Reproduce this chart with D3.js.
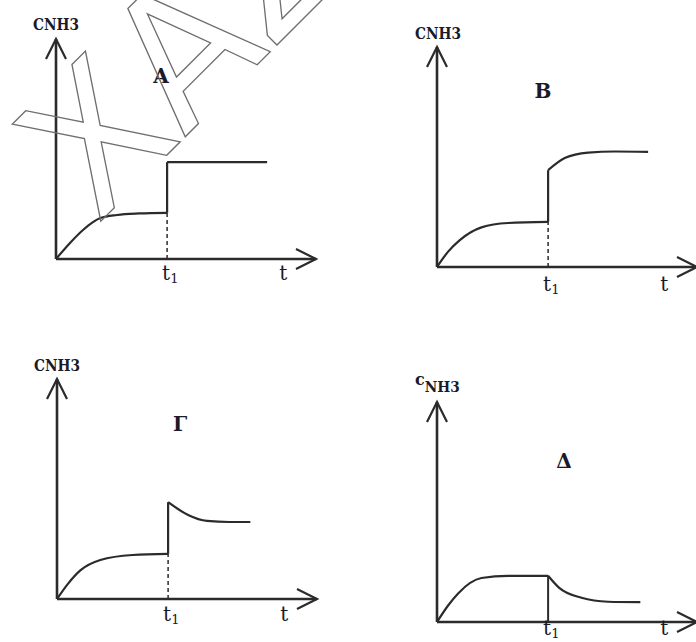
<!DOCTYPE html>
<html>
<head>
<meta charset="utf-8">
<script src="https://cdn.jsdelivr.net/npm/d3@7"></script>
<style>
  body { margin: 0; background: #fff; }
</style>
</head>
<body>
<div id="chart"></div>
<script>
// panel titles
const panelNames = ["A", "B", "Γ", "Δ"];
// time of the disturbance (t in units of t1)
const tChange = 1;

// A: concentration jumps and stays
const aBeforeT = [0, 0.126, 0.243, 0.4, 0.55, 0.75, 1.0];
const aBeforeC = [0, 0.073, 0.132, 0.186, 0.2, 0.207, 0.21];
const aAfterT = [1.0, 1.9];
const aAfterC = [0.44, 0.44];

// B: jumps then keeps rising
const bBeforeT = [0, 0.1, 0.2, 0.4, 0.64, 1.0];
const bBeforeC = [0, 0.07, 0.12, 0.18, 0.2, 0.205];
const bAfterT = [1.0, 1.15, 1.36, 1.6, 1.9];
const bAfterC = [0.44, 0.495, 0.52, 0.525, 0.523];

// Γ: jumps then falls back a little
const gBeforeT = [0, 0.1, 0.21, 0.39, 0.68, 1.0];
const gBeforeC = [0, 0.07, 0.13, 0.177, 0.2, 0.205];
const gAfterT = [1.0, 1.18, 1.35, 1.55, 1.74];
const gAfterC = [0.44, 0.382, 0.355, 0.35, 0.35];

// Δ: no jump, decays
const dBeforeT = [0, 0.1, 0.19, 0.4, 0.64, 1.0];
const dBeforeC = [0, 0.075, 0.13, 0.2, 0.21, 0.21];
const dAfterT = [1.0, 1.1, 1.3, 1.54, 1.83];
const dAfterC = [0.21, 0.155, 0.11, 0.092, 0.09];

const beforeT = [aBeforeT, bBeforeT, gBeforeT, dBeforeT];
const beforeC = [aBeforeC, bBeforeC, gBeforeC, dBeforeC];
const afterT = [aAfterT, bAfterT, gAfterT, dAfterT];
const afterC = [aAfterC, bAfterC, gAfterC, dAfterC];

// axis extents
const tMax = 2.34;
const cMax = 1;

// where each small plot sits on the page
const layout = [
  { ox: 56, oy: 259, title: [161, 83], yLab: [33, 30], sub: false, tickY: 280, dashed: true },
  { ox: 437, oy: 267, title: [543, 98], yLab: [415, 39], sub: false, tickY: 291, dashed: true },
  { ox: 57, oy: 599, title: [180, 431], yLab: [34, 371], sub: false, tickY: 621, dashed: true },
  { ox: 437, oy: 622, title: [564, 468], yLab: [415, 385], sub: true, tickY: 635, dashed: false },
];

const svg = d3
  .select("#chart")
  .append("svg")
  .attr("width", 696)
  .attr("height", 642);

const ink = "#2b2b2b";
const textInk = "#1a1a28";
const serif = "'DejaVu Serif', serif";

layout.forEach((p, i) => {
  const x = d3.scaleLinear().domain([0, tMax]).range([p.ox, p.ox + 260]);
  const y = d3.scaleLinear().domain([0, cMax]).range([p.oy, p.oy - 220]);
  const g = svg.append("g");

  const line = d3
    .line()
    .x((d) => x(d[0]))
    .y((d) => y(d[1]))
    .curve(d3.curveMonotoneX);

  // axes
  g.append("line")
    .attr("x1", x(0)).attr("y1", y(0))
    .attr("x2", x(tMax)).attr("y2", y(0))
    .attr("stroke", ink).attr("stroke-width", 2.6);
  g.append("line")
    .attr("x1", x(0)).attr("y1", y(0))
    .attr("x2", x(0)).attr("y2", y(cMax))
    .attr("stroke", ink).attr("stroke-width", 2.6);

  // open arrow heads
  g.append("path")
    .attr("d", `M${x(tMax) - 20},${y(0) - 10}L${x(tMax)},${y(0)}L${x(tMax) - 20},${y(0) + 10}`)
    .attr("fill", "none").attr("stroke", ink).attr("stroke-width", 2.2);
  g.append("path")
    .attr("d", `M${x(0) - 10},${y(cMax) + 20}L${x(0)},${y(cMax)}L${x(0) + 10},${y(cMax) + 20}`)
    .attr("fill", "none").attr("stroke", ink).attr("stroke-width", 2.2);

  const cAtChange = beforeC[i][beforeC[i].length - 1];

  // marker at t1
  g.append("line")
    .attr("x1", x(tChange)).attr("y1", y(0))
    .attr("x2", x(tChange)).attr("y2", y(cAtChange))
    .attr("stroke", ink)
    .attr("stroke-width", p.dashed ? 1.5 : 2)
    .attr("stroke-dasharray", p.dashed ? "4,3" : null);

  // curve before t1
  g.append("path")
    .datum(d3.zip(beforeT[i], beforeC[i]))
    .attr("d", line)
    .attr("fill", "none").attr("stroke", ink).attr("stroke-width", 2.2);

  // sudden jump at t1
  if (afterC[i][0] !== cAtChange) {
    g.append("line")
      .attr("x1", x(tChange)).attr("y1", y(cAtChange))
      .attr("x2", x(tChange)).attr("y2", y(afterC[i][0]))
      .attr("stroke", ink).attr("stroke-width", 2.2);
  }

  // curve after t1
  g.append("path")
    .datum(d3.zip(afterT[i], afterC[i]))
    .attr("d", line)
    .attr("fill", "none").attr("stroke", ink).attr("stroke-width", 2.2);

  // panel title
  g.append("text")
    .attr("x", p.title[0]).attr("y", p.title[1])
    .attr("text-anchor", "middle")
    .attr("font-family", serif).attr("font-weight", "bold")
    .attr("font-size", 20).attr("fill", textInk)
    .text(panelNames[i]);

  // y axis label
  if (p.sub) {
    const t = g.append("text")
      .attr("x", p.yLab[0]).attr("y", p.yLab[1])
      .attr("font-family", serif).attr("font-weight", "bold")
      .attr("font-size", 16).attr("fill", textInk);
    t.append("tspan").text("c");
    t.append("tspan").attr("dy", 7).attr("font-size", 14)
      .attr("textLength", 35).attr("lengthAdjust", "spacingAndGlyphs")
      .text("NH3");
  } else {
    g.append("text")
      .attr("x", p.yLab[0]).attr("y", p.yLab[1])
      .attr("font-family", serif).attr("font-weight", "bold")
      .attr("font-size", 16).attr("fill", textInk)
      .attr("textLength", 46).attr("lengthAdjust", "spacingAndGlyphs")
      .text("CNH3");
  }

  // t1 and t labels
  const t1 = g.append("text")
    .attr("x", x(tChange) - 5).attr("y", p.tickY)
    .attr("font-family", serif).attr("font-size", 20).attr("fill", textInk);
  t1.append("tspan").text("t");
  t1.append("tspan").attr("dy", 3).attr("font-size", 13).text("1");

  g.append("text")
    .attr("x", x(2.01)).attr("y", p.tickY)
    .attr("font-family", serif).attr("font-size", 20).attr("fill", textInk)
    .text("t");
});

// outlined watermark across the first panel
svg.append("text")
  .attr("transform", "translate(97,225) rotate(-45)")
  .attr("font-family", "'DejaVu Sans', sans-serif")
  .attr("font-size", 180)
  .attr("fill", "none")
  .attr("stroke", "#6e6e6e")
  .attr("stroke-width", 1.3)
  .text("XAZ");
</script>
</body>
</html>
